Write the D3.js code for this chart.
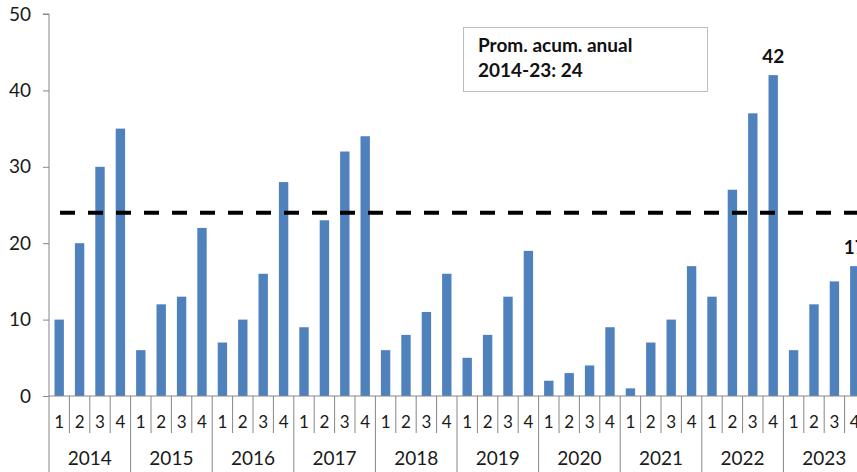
<!DOCTYPE html>
<html><head><meta charset="utf-8">
<script src="https://cdn.jsdelivr.net/npm/d3@7"></script>
<style>html,body{margin:0;padding:0;background:#fff;overflow:hidden}</style>
</head><body>
<svg id="c" width="857" height="472"></svg>
<script>
const years = ["2014","2015","2016","2017","2018","2019","2020","2021","2022","2023"];
const quarters = ["1","2","3","4"];
const values = [
  10,20,30,35,
  6,12,13,22,
  7,10,16,28,
  9,23,32,34,
  6,8,11,16,
  5,8,13,19,
  2,3,4,9,
  1,7,10,17,
  13,27,37,42,
  6,12,15,17
];
const average = 24;
const yTicks = [0,10,20,30,40,50];
const labeled = [35, 39]; // indices with data labels
const boxLines = ["Prom. acum. anual", "2014-23: 24"];

const svg = d3.select("#c");
const font = "Lato, 'Open Sans', sans-serif";
const x0 = 49, bandW = 20.4;
const cats = [];
years.forEach(y => quarters.forEach(q => cats.push(y + "-" + q)));
const x = d3.scaleBand().domain(cats).range([x0, x0 + bandW * cats.length]).paddingInner(0.54).paddingOuter(0.27);
const xOuter = d3.scaleBand().domain(cats).range([x0, x0 + bandW * cats.length]);
const y = d3.scaleLinear().domain([0, 50]).range([396, 14]);
const axisCol = "#868686";
const txtCol = "#1a1a1a";

// bars
svg.selectAll("rect.bar").data(values).join("rect")
  .attr("x", (d,i) => x(cats[i])).attr("width", x.bandwidth())
  .attr("y", d => y(d)).attr("height", d => y(0) - y(d))
  .attr("fill", "#4F81BD");

// y axis
const yAxis = d3.axisLeft(y).tickValues(yTicks).tickSize(6).tickPadding(12);
const gy = svg.append("g").attr("transform", `translate(${x0},0)`).call(yAxis);
gy.select(".domain").attr("stroke", axisCol).attr("d", `M-6,${y(50)}H0V${y(0)}`);
gy.selectAll(".tick line").attr("stroke", axisCol);
gy.selectAll(".tick text").attr("font-family", font).attr("font-size", 19).attr("fill", txtCol);

// x axis base line
svg.append("line").attr("x1", x0).attr("x2", 857).attr("y1", y(0)).attr("y2", y(0)).attr("stroke", axisCol);

// quarter separators & labels
cats.forEach((c, i) => {
  const left = xOuter(c);
  const isYear = i % 4 === 0;
  svg.append("line").attr("x1", left).attr("x2", left)
    .attr("y1", y(0)).attr("y2", isYear ? 472 : 433)
    .attr("stroke", axisCol);
  svg.append("text").attr("x", left + bandW / 2).attr("y", 428)
    .attr("text-anchor", "middle").attr("font-family", font).attr("font-size", 17).attr("fill", txtCol)
    .text(quarters[i % 4]);
});
years.forEach((yr, j) => {
  const left = xOuter(cats[j * 4]);
  svg.append("text").attr("x", left + bandW * 2).attr("y", 465)
    .attr("text-anchor", "middle").attr("font-family", font).attr("font-size", 19).attr("fill", txtCol)
    .text(yr);
});

// average dashed line
svg.append("line").attr("x1", 60).attr("x2", 857).attr("y1", y(average)).attr("y2", y(average))
  .attr("stroke", "#000").attr("stroke-width", 4).attr("stroke-dasharray", "15,13");

// data labels
labeled.forEach(i => {
  svg.append("text").attr("x", x(cats[i]) + x.bandwidth() / 2).attr("y", y(values[i]) - 12)
    .attr("text-anchor", "middle").attr("font-family", font).attr("font-size", 19)
    .attr("font-weight", "bold").attr("fill", "#111").text(values[i]);
});

// annotation box
svg.append("rect").attr("x", 463.5).attr("y", 27.5).attr("width", 244).attr("height", 64)
  .attr("fill", "#fff").attr("stroke", "#bdbdbd");
boxLines.forEach((t, k) => {
  svg.append("text").attr("x", 478).attr("y", 52 + k * 25)
    .attr("font-family", font).attr("font-size", 19).attr("font-weight", "bold").attr("fill", "#111").text(t);
});
</script>
</body></html>
